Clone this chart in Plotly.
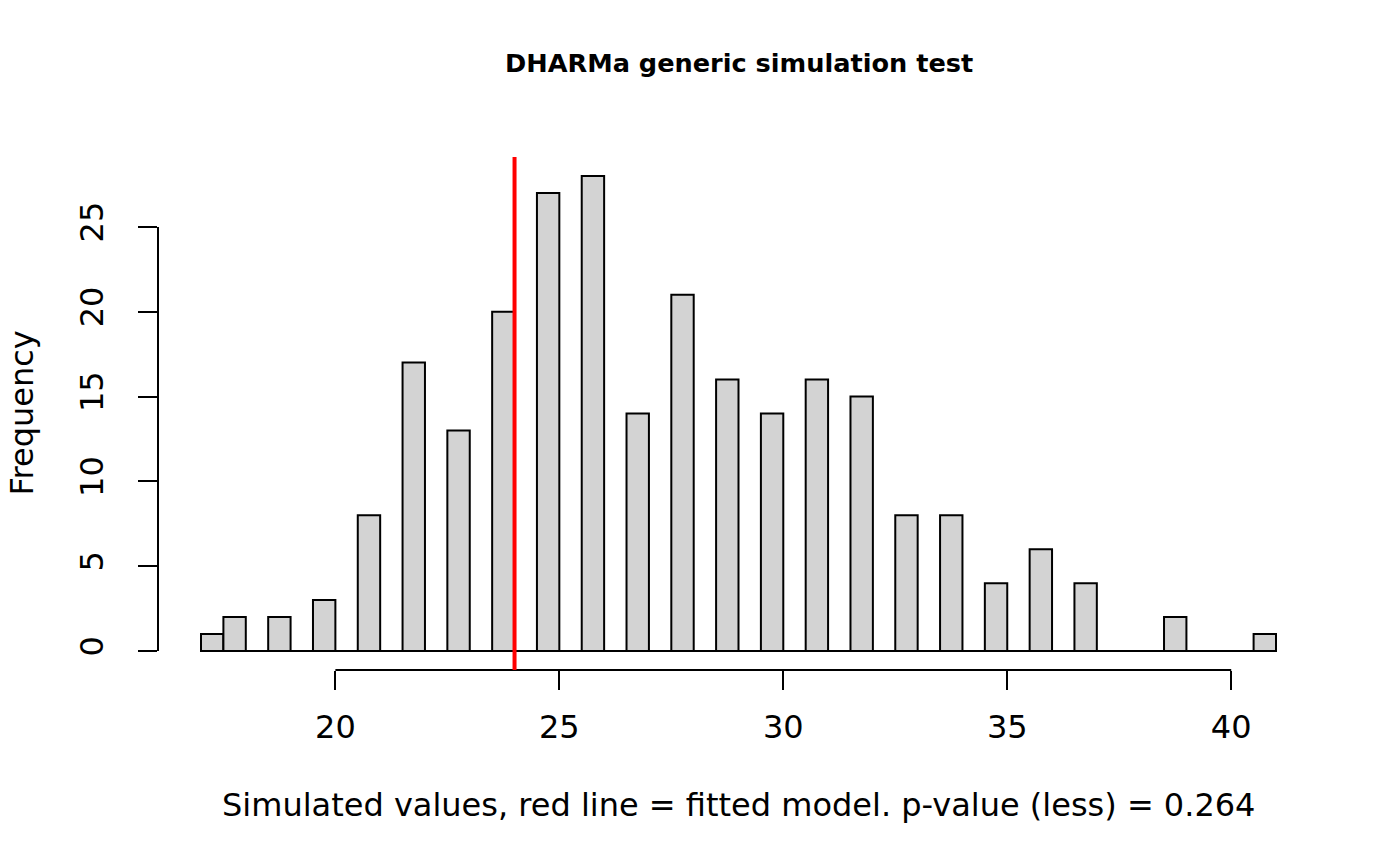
import plotly.graph_objects as go

# histogram of the simulated values (bins of width 0.5)
bin_mids = [17.25, 17.75, 18.25, 18.75, 19.25, 19.75, 20.25, 20.75, 21.25, 21.75,
            22.25, 22.75, 23.25, 23.75, 24.25, 24.75, 25.25, 25.75, 26.25, 26.75,
            27.25, 27.75, 28.25, 28.75, 29.25, 29.75, 30.25, 30.75, 31.25, 31.75,
            32.25, 32.75, 33.25, 33.75, 34.25, 34.75, 35.25, 35.75, 36.25, 36.75,
            37.25, 37.75, 38.25, 38.75, 39.25, 39.75, 40.25, 40.75]
counts = [1, 2, 0, 2, 0, 3, 0, 8, 0, 17,
          0, 13, 0, 20, 0, 27, 0, 28, 0, 14,
          0, 21, 0, 16, 0, 14, 0, 16, 0, 15,
          0, 8, 0, 8, 0, 4, 0, 6, 0, 4,
          0, 0, 0, 2, 0, 0, 0, 1]
bin_width = 0.5
observed = 24  # fitted model value (red line)

x_ticks = [20, 25, 30, 35, 40]
y_ticks = [0, 5, 10, 15, 20, 25]

FONT = "DejaVu Sans"

fig = go.Figure()

fig.add_trace(go.Bar(
    x=bin_mids,
    y=counts,
    width=bin_width,
    marker=dict(color="#D3D3D3", line=dict(color="black", width=2)),
    showlegend=False,
    hoverinfo="x+y",
))

# R style axis lines, only over the tick range
fig.add_shape(type="line", xref="x", yref="paper",
              x0=x_ticks[0], x1=x_ticks[-1], y0=0, y1=0,
              line=dict(color="black", width=2))
fig.add_shape(type="line", xref="paper", yref="y",
              x0=0, x1=0, y0=y_ticks[0], y1=y_ticks[-1],
              line=dict(color="black", width=2))

# zero-count bins show up as a flat line on the baseline
fig.add_shape(type="line", xref="x", yref="y",
              x0=bin_mids[0] - bin_width / 2, x1=bin_mids[-1] + bin_width / 2,
              y0=0, y1=0, line=dict(color="black", width=2), layer="above")

fig.add_vline(x=observed, line=dict(color="red", width=4))

fig.add_annotation(text="<b>DHARMa generic simulation test</b>",
                   xref="paper", yref="paper", x=0.5, y=1.183,
                   xanchor="center", yanchor="middle", showarrow=False,
                   font=dict(family=FONT, size=25.6, color="black"))
fig.add_annotation(text="Simulated values, red line = fitted model. p-value (less) = 0.264",
                   xref="paper", yref="paper", x=0.5, y=-0.263,
                   xanchor="center", yanchor="middle", showarrow=False,
                   font=dict(family=FONT, size=32, color="black"))
fig.add_annotation(text="Frequency", textangle=-90,
                   xref="paper", yref="paper", x=-0.118, y=0.5,
                   xanchor="center", yanchor="middle", showarrow=False,
                   font=dict(family=FONT, size=32, color="black"))

fig.update_xaxes(range=[16.04, 41.96], tickvals=x_ticks, ticks="outside",
                 ticklen=19, tickwidth=2, tickcolor="black", showline=False,
                 showgrid=False, zeroline=False, ticklabelstandoff=10,
                 tickfont=dict(family=FONT, size=32, color="black"))
fig.update_yaxes(range=[-1.12, 29.12], tickvals=y_ticks, ticks="outside",
                 ticklen=19, tickwidth=2, tickcolor="black", showline=False,
                 showgrid=False, zeroline=False, tickangle=-90,
                 ticklabelstandoff=22,
                 tickfont=dict(family=FONT, size=32, color="black"))

# page body adds an 8px offset, so the figure is a bit smaller than the window
fig.update_layout(
    width=1392, height=858,
    margin=dict(l=150, r=81, t=149, b=196),
    plot_bgcolor="white", paper_bgcolor="white",
    font=dict(family=FONT, color="black"),
)

fig.write_html("out.html")
